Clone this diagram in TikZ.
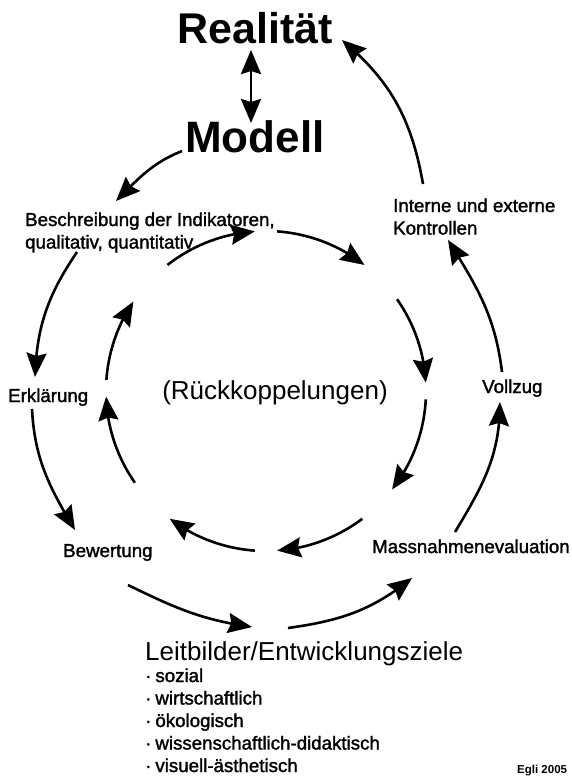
\documentclass[tikz,border=0pt]{standalone}
\usepackage{fontspec}
\setmainfont{Liberation Sans}
\newfontfamily\lblfont[FakeBold=1.6]{Liberation Sans}
\usetikzlibrary{arrows.meta,bending}
\tikzset{
  lbl/.style={inner sep=0pt, font=\lblfont\fontsize{18.7}{22.5}\selectfont},
  title/.style={inner sep=0pt, font=\bfseries\fontsize{#1}{#1}\selectfont},
  mid/.style={inner sep=0pt, font=\fontsize{26}{30}\selectfont},
  tipk/.tip={Stealth[length=24pt,width=20pt,inset=3pt]},
  arr/.style={line width=2.6pt, -tipk},
}
\begin{document}
\begin{tikzpicture}[x=1pt,y=1pt]
\useasboundingbox (0,0) rectangle (572,-779);
% nodes
\node[title=43, anchor=base] (real) at (255,-43) {Realität};
\node[title=44, anchor=base] (modell) at (255,-152) {Modell};
\node[lbl, anchor=base west] (beschr) at (25,-226)
  {\vtop{\hbox{Beschreibung der Indikatoren,}\hbox{qualitativ, quantitativ}}};
\node[lbl, anchor=base west] (interne) at (393,-212)
  {\vtop{\hbox{Interne und externe}\hbox{Kontrollen}}};
\node[lbl, anchor=base west] (erkl) at (8,-402) {Erklärung};
\node[lbl, anchor=base west] (vollzug) at (482,-393) {Vollzug};
\node[lbl, anchor=base west] (bew) at (63,-557) {Bewertung};
\node[lbl, anchor=base west] (mass) at (372,-553) {Massnahmenevaluation};
\node[mid, anchor=base] (rueck) at (275,-399) {(Rückkoppelungen)};
\node[mid, anchor=base west] (leit) at (145,-660) {Leitbilder/Entwicklungsziele};
\node[lbl, anchor=base west] (ziele) at (145,-682)
  {\vtop{\hbox{·\hspace{4pt}sozial}\hbox{·\hspace{4pt}wirtschaftlich}\hbox{·\hspace{4pt}ökologisch}\hbox{·\hspace{4pt}wissenschaftlich-didaktisch}\hbox{·\hspace{4pt}visuell-ästhetisch}}};
\node[inner sep=0pt, anchor=base west, font=\bfseries\fontsize{11.5}{12}\selectfont] (egli) at (517,-773) {Egli 2005};
% Realitaet <-> Modell
\draw[line width=2.8pt, tipk-tipk] ([shift={(-4,-7)}]real.base) -- ([shift={(-4,29)}]modell.base);
% outer loop
\draw[arr] ([shift={(-73,1)}]modell.base) to[out=202,in=45] ([shift={(91,25)}]beschr.base west);
\draw[arr] ([shift={(52,-26)}]beschr.base west) to[out=236,in=88] ([shift={(27,25)}]erkl.base west);
\draw[arr] ([shift={(24,-7)}]erkl.base west) to[out=273,in=121] ([shift={(12,27)}]bew.base west);
\draw[arr] ([shift={(65,-28)}]bew.base west) to[out=-26,in=172] ([shift={(107,33)}]leit.base west);
\draw[arr] ([shift={(143,32)}]leit.base west) to[out=8,in=219] ([shift={(40,-25)}]mass.base west);
\draw[arr] ([shift={(83,21)}]mass.base west) to[out=59,in=270] ([shift={(18,-9)}]vollzug.base west);
\draw[arr] ([shift={(20,21)}]vollzug.base west) to[out=97,in=-58] ([shift={(55,-28)}]interne.base west);
\draw[arr] ([shift={(30,28)}]interne.base west) to[out=100,in=-40] ([shift={(87,3)}]real.base);
% inner feedback circle
\coordinate (c) at ([shift={(-9,8)}]rueck.base);
\foreach \a/\b in {128/94, 86/52, 35/3, -3/-38, -53/-86, -94/-127, -145/-178, 176/146}{
  \draw[arr] ([shift={(\a:160pt)}]c) arc[start angle=\a, end angle=\b, radius=160pt];
}
\end{tikzpicture}
\end{document}
